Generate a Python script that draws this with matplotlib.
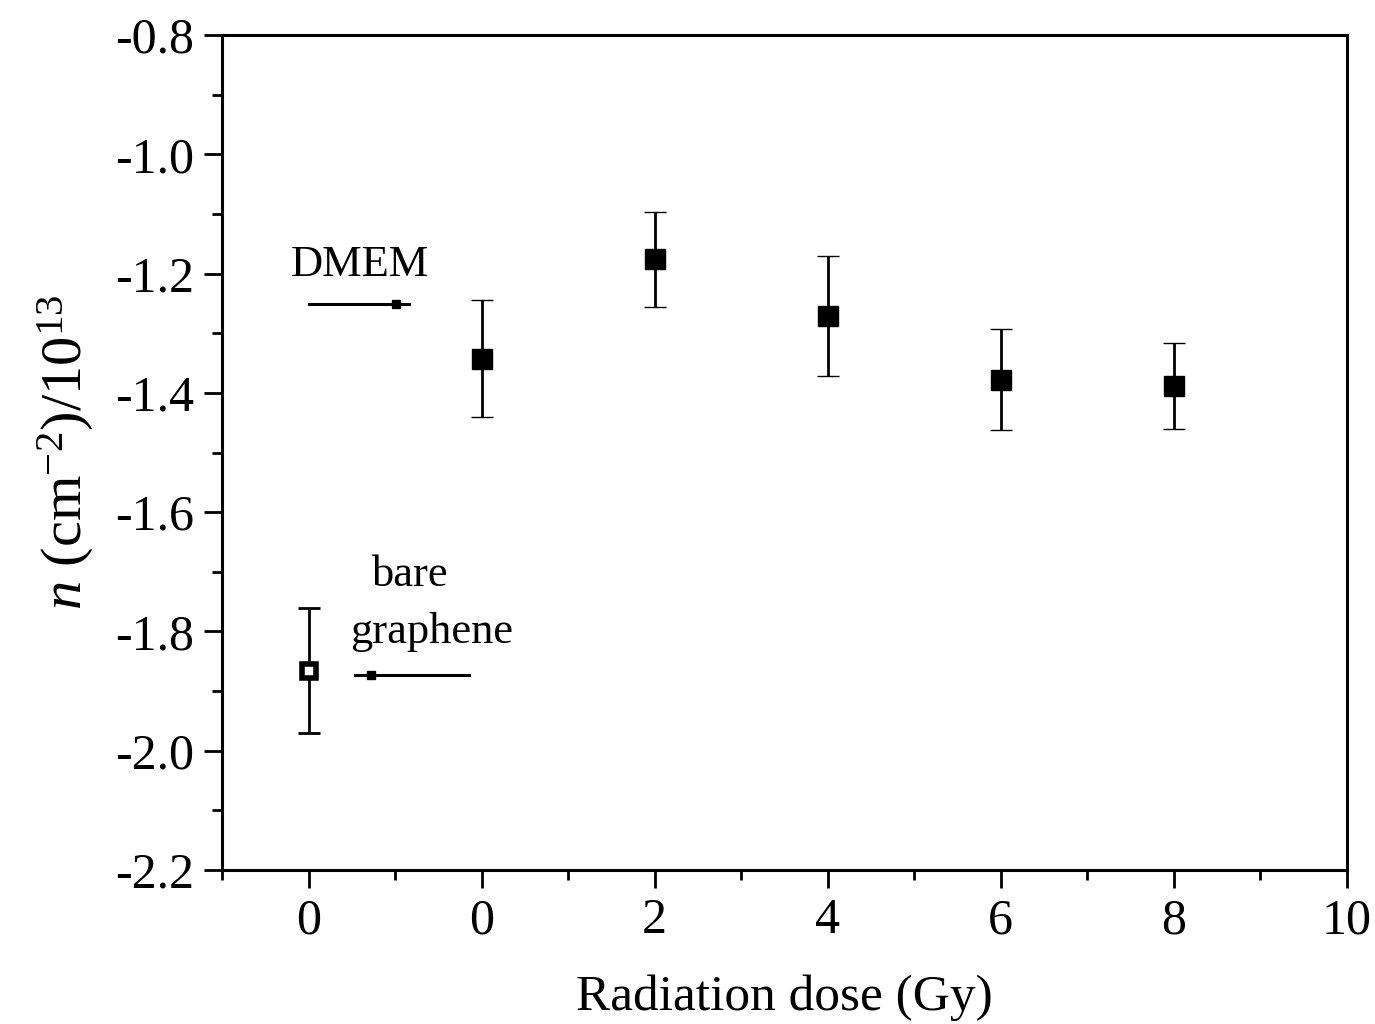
import matplotlib
matplotlib.use("Agg")
from matplotlib import pyplot as plt
from matplotlib.ticker import MultipleLocator

plt.rcParams['font.family'] = ['Liberation Serif', 'DejaVu Serif']
plt.rcParams['mathtext.fontset'] = 'custom'
plt.rcParams['mathtext.rm'] = 'Liberation Serif'
plt.rcParams['mathtext.it'] = 'Liberation Serif:italic'
plt.rcParams['axes.unicode_minus'] = False

# bare graphene reference point (plotted at x = -2, labelled "0")
bareX = [-2]
bareY = [-1.866]
bareErr = [0.105]

# graphene in DMEM vs radiation dose
doseX = [0, 2, 4, 6, 8]
doseY = [-1.343, -1.176, -1.271, -1.378, -1.389]
doseErr = [0.098, 0.08, 0.101, 0.085, 0.072]

xTicks = [-2, 0, 2, 4, 6, 8, 10]
xTickLabels = ["0", "0", "2", "4", "6", "8", "10"]

fig = plt.figure(figsize=(13.75, 10.24), dpi=100)
ax = fig.add_axes([0.1615, 0.1504, 0.8181, 0.8154])

ax.errorbar(doseX, doseY, yerr=doseErr, fmt='s', color='black', ms=15, mew=1,
			elinewidth=2, capsize=8, capthick=2)
ax.errorbar(bareX, bareY, yerr=bareErr, fmt='none', ecolor='black',
			elinewidth=2, capsize=8, capthick=2)
ax.plot(bareX, bareY, 's', color='black', mfc='white', ms=10, mew=4)

# arrows with the little square heads
ax.plot([-2.0, -0.84], [-1.251, -1.251], color='black', lw=2.2)
ax.plot([-0.99], [-1.251], 's', color='black', ms=6)
ax.plot([-0.15, -1.46], [-1.873, -1.873], color='black', lw=2.2)
ax.plot([-1.28], [-1.873], 's', color='black', ms=6)

ax.text(-1.41, -1.186, "DMEM", fontsize=32, ha='center', va='center')
ax.text(-0.82, -1.705, "bare", fontsize=32, ha='center', va='center')
ax.text(-0.58, -1.801, "graphene", fontsize=32, ha='center', va='center')

ax.set_xlim(-3, 10)
ax.set_ylim(-2.2, -0.8)
ax.set_xticks(xTicks)
ax.set_xticklabels(xTickLabels)
ax.xaxis.set_minor_locator(MultipleLocator(1))
ax.yaxis.set_major_locator(MultipleLocator(0.2))
ax.yaxis.set_minor_locator(MultipleLocator(0.1))
ax.yaxis.set_major_formatter(matplotlib.ticker.FormatStrFormatter('%.1f'))

ax.tick_params(which='major', direction='out', length=13, width=2, labelsize=36, pad=7)
ax.tick_params(which='minor', direction='out', length=7, width=2)
for spine in ax.spines.values():
	spine.set_linewidth(2.2)

ax.set_xlabel("Radiation dose (Gy)", fontsize=37, labelpad=22)
ax.set_ylabel(r"$\mathit{n}$ (cm$^{-2}$)/10$^{13}$", fontsize=42, labelpad=14)

plt.savefig("out.png")
plt.close()
